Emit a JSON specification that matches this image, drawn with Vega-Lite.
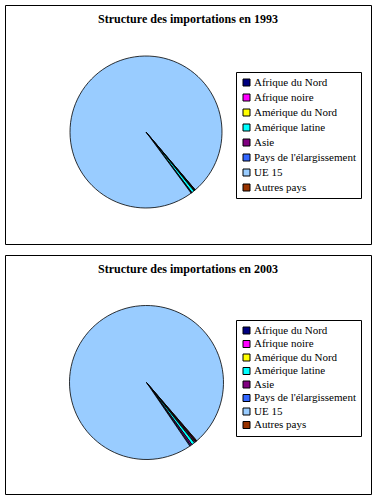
{
  "$schema": "https://vega.github.io/schema/vega-lite/v6.json",
  "padding": {"left": 4, "top": 4, "right": 4, "bottom": 4},
  "background": "white",
  "spacing": 9,
  "config": {
    "view": {"stroke": "black", "strokeWidth": 1},
    "font": "Liberation Serif",
    "title": {"font": "Liberation Serif", "fontSize": 12, "fontWeight": "bold", "color": "black", "anchor": "middle"},
    "legend": {"labelFont": "Liberation Serif", "labelFontSize": 11}
  },
  "data": {
    "values": [
      {"annee": 1993, "zone": "Afrique du Nord", "rang": 1, "part": 0.15},
      {"annee": 1993, "zone": "Afrique noire", "rang": 2, "part": 0.05},
      {"annee": 1993, "zone": "Amérique du Nord", "rang": 3, "part": 0.1},
      {"annee": 1993, "zone": "Amérique latine", "rang": 4, "part": 0.55},
      {"annee": 1993, "zone": "Asie", "rang": 5, "part": 0.1},
      {"annee": 1993, "zone": "Pays de l'élargissement", "rang": 6, "part": 0.1},
      {"annee": 1993, "zone": "UE 15", "rang": 7, "part": 98.9},
      {"annee": 1993, "zone": "Autres pays", "rang": 8, "part": 0.05},
      {"annee": 2003, "zone": "Afrique du Nord", "rang": 1, "part": 0.2},
      {"annee": 2003, "zone": "Afrique noire", "rang": 2, "part": 0.2},
      {"annee": 2003, "zone": "Amérique du Nord", "rang": 3, "part": 0.1},
      {"annee": 2003, "zone": "Amérique latine", "rang": 4, "part": 0.6},
      {"annee": 2003, "zone": "Asie", "rang": 5, "part": 0.35},
      {"annee": 2003, "zone": "Pays de l'élargissement", "rang": 6, "part": 0.2},
      {"annee": 2003, "zone": "UE 15", "rang": 7, "part": 98.2},
      {"annee": 2003, "zone": "Autres pays", "rang": 8, "part": 0.15}
    ]
  },
  "resolve": {"legend": {"color": "independent"}, "scale": {"theta": "independent"}},
  "vconcat": [
    {
      "width": 366,
      "height": 239,
      "title": {"text": "Structure des importations en 1993", "offset": -21},
      "transform": [{"filter": "datum.annee == 1993"}],
      "mark": {"type": "arc", "outerRadius": 76, "stroke": "black", "strokeWidth": 0.8},
      "encoding": {
        "x": {"value": 141},
        "y": {"value": 127},
        "theta": {"field": "part", "type": "quantitative", "stack": true, "scale": {"range": [2.44, 8.723]}},
        "order": {"field": "rang", "type": "quantitative"},
        "color": {
          "field": "zone", "type": "nominal",
          "scale": {
            "domain": ["Afrique du Nord", "Afrique noire", "Amérique du Nord", "Amérique latine", "Asie", "Pays de l'élargissement", "UE 15", "Autres pays"],
            "range": ["#000080", "#FF00FF", "#FFFF00", "#00FFFF", "#800080", "#3366FF", "#99CCFF", "#993300"]
          },
          "legend": {
            "title": null, "orient": "none", "legendX": 231, "legendY": 67,
            "direction": "vertical",
            "strokeColor": "black", "fillColor": "white", "padding": 5,
            "symbolType": "square", "symbolSize": 49, "symbolStrokeColor": "black", "symbolStrokeWidth": 1,
            "labelFont": "Liberation Serif", "labelFontSize": 11, "labelColor": "black", "labelOffset": 2,
            "rowPadding": 3, "labelLimit": 200
          }
        }
      }
    },
    {
      "width": 366,
      "height": 239,
      "title": {"text": "Structure des importations en 2003", "offset": -21},
      "transform": [{"filter": "datum.annee == 2003"}],
      "mark": {"type": "arc", "outerRadius": 77, "stroke": "black", "strokeWidth": 0.8},
      "encoding": {
        "x": {"value": 141.5},
        "y": {"value": 127.5},
        "theta": {"field": "part", "type": "quantitative", "stack": true, "scale": {"range": [2.44, 8.723]}},
        "order": {"field": "rang", "type": "quantitative"},
        "color": {
          "field": "zone", "type": "nominal",
          "scale": {
            "domain": ["Afrique du Nord", "Afrique noire", "Amérique du Nord", "Amérique latine", "Asie", "Pays de l'élargissement", "UE 15", "Autres pays"],
            "range": ["#000080", "#FF00FF", "#FFFF00", "#00FFFF", "#800080", "#3366FF", "#99CCFF", "#993300"]
          },
          "legend": {
            "title": null, "orient": "none", "legendX": 231, "legendY": 65,
            "direction": "vertical",
            "strokeColor": "black", "fillColor": "white", "padding": 5,
            "symbolType": "square", "symbolSize": 49, "symbolStrokeColor": "black", "symbolStrokeWidth": 1,
            "labelFont": "Liberation Serif", "labelFontSize": 11, "labelColor": "black", "labelOffset": 2,
            "rowPadding": 1.5, "labelLimit": 200
          }
        }
      }
    }
  ]
}
